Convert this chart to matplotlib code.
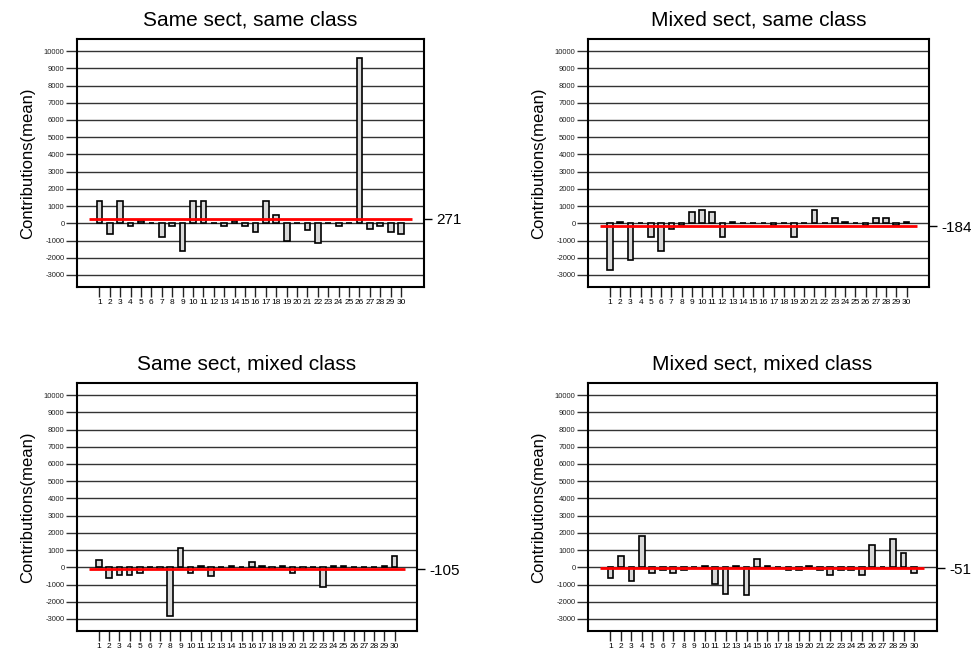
import matplotlib
matplotlib.use("Agg")
import matplotlib.pyplot as plt

plt.rcParams['font.family'] = ['Liberation Sans', 'DejaVu Sans']

participants = list(range(1, 31))
titles = ["Same sect, same class", "Mixed sect, same class",
          "Same sect, mixed class", "Mixed sect, mixed class"]

same_sect_same_class = [1300, -650, 1300, -150, 150, 0, -800, -150, -1630, 1300,
                        1300, 0, -150, 150, -150, -480, 1300, 500, -1000, 0,
                        -370, -1150, 0, -150, 0, 9600, -350, -150, -480, -650]
mixed_sect_same_class = [-2700, 100, -2150, 0, -800, -1630, -350, -100, 650, 800,
                         650, -800, 100, 0, 0, 0, -100, 0, -800, 0,
                         800, 0, 300, 100, 0, -100, 300, 300, -100, 100]
same_sect_mixed_class = [450, -640, -470, -470, -350, 0, -100, -2800, 1130, -330,
                         100, -480, 0, 100, 0, 300, 100, -100, 100, -330,
                         -100, 0, -1150, 100, 100, 0, 0, 0, 100, 650]
mixed_sect_mixed_class = [-650, 650, -820, 1830, -350, -150, -350, -150, 0, 100,
                          -980, -1580, 100, -1630, 470, 100, 0, -150, -150, 100,
                          -150, -470, -150, -150, -470, 1300, 0, 1650, 840, -350]
means = [271, -184, -105, -51]
series = [same_sect_same_class, mixed_sect_same_class,
          same_sect_mixed_class, mixed_sect_mixed_class]
yticks = list(range(-3000, 10001, 1000))

W, H = 976, 653
fig = plt.figure(figsize=(W / 100, H / 100), dpi=100)
frames = [(77, 39, 424, 287), (588, 39, 929, 287),
          (77, 383, 417, 631), (588, 383, 937, 631)]

for (x0, y0, x1, y1), title, vals, m in zip(frames, titles, series, means):
    ax = fig.add_axes([x0 / W, 1 - y1 / H, (x1 - x0) / W, (y1 - y0) / H])
    ax.set_xlim(-1.15, 32.2)
    ax.set_ylim(-3700, 10700)
    ax.set_yticks(yticks)
    ax.set_yticklabels([str(v) for v in yticks], fontsize=5.5, color='#222222')
    ax.set_xticks(participants)
    ax.set_xticklabels([str(p) for p in participants], fontsize=6)
    ax.tick_params(axis='y', length=8, width=1, color='#333333', pad=1)
    ax.tick_params(axis='x', length=7, width=1, color='#222222', pad=2)
    for yv in yticks:
        ax.axhline(yv, color='#333333', lw=1.0, zorder=1)
    ax.bar(participants, vals, width=0.55, color='#d9d9d9', edgecolor='black',
           linewidth=1.2, zorder=2)
    ax.hlines(m, 0, 31, color='#ff0000', lw=2, zorder=3)
    for sp in ax.spines.values():
        sp.set_linewidth(1.5)
        sp.set_color('black')
    ax.set_title(title, fontsize=15, pad=10)
    ax.set_ylabel("Contributions(mean)", fontsize=12, labelpad=6)
    ax2 = ax.twinx()
    ax2.set_ylim(ax.get_ylim())
    ax2.set_yticks([m])
    ax2.set_yticklabels([str(m)], fontsize=11)
    ax2.tick_params(axis='y', length=6, width=1, pad=3)
    for sp in ax2.spines.values():
        sp.set_visible(False)

fig.savefig("out.png", dpi=100)
